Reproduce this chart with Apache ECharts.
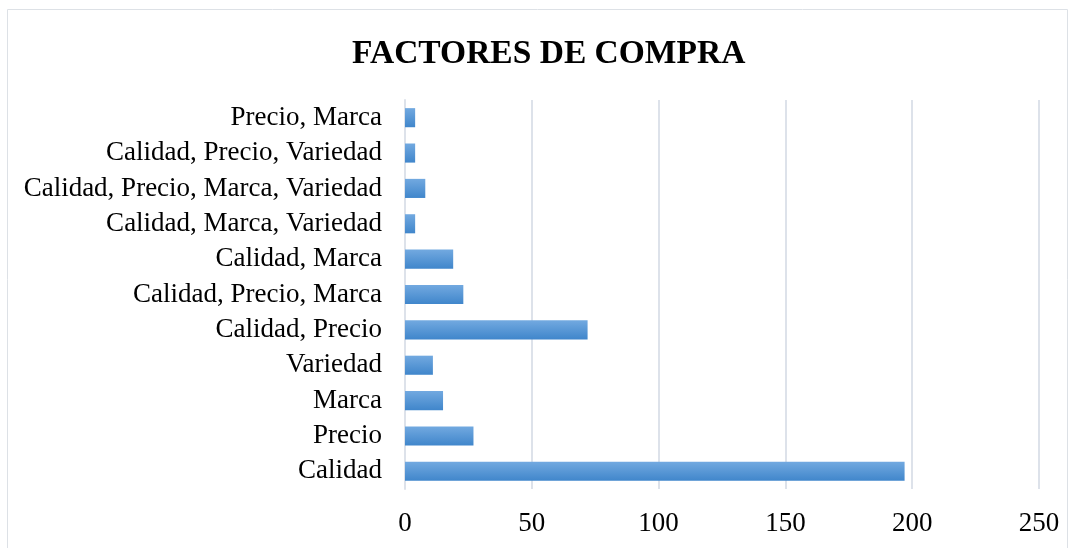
<!DOCTYPE html>
<html>
<head>
<meta charset="utf-8">
<script src="https://cdn.jsdelivr.net/npm/echarts@6/dist/echarts.min.js"></script>
<style>
html, body { margin: 0; padding: 0; background: #fff; }
#chart { width: 1073px; height: 548px; }
</style>
</head>
<body>
<div id="chart"></div>
<script>
var categories = ['Calidad', 'Precio', 'Marca', 'Variedad', 'Calidad, Precio',
    'Calidad, Precio, Marca', 'Calidad, Marca', 'Calidad, Marca, Variedad',
    'Calidad, Precio, Marca, Variedad', 'Calidad, Precio, Variedad', 'Precio, Marca'];
var counts = [197, 27, 15, 11, 72, 23, 19, 4, 8, 4, 4];
var axisMax = 250;
var axisStep = 50;

var serif = '"Liberation Serif", "Times New Roman", serif';

var option_factores = {
    animation: false,
    title: {
        text: 'FACTORES DE COMPRA',
        left: 347,
        top: 32,
        textStyle: {
            fontFamily: serif,
            fontSize: 33.5,
            fontWeight: 'bold',
            color: '#000'
        }
    },
    graphic: [{
        type: 'rect',
        shape: { x: 7.5, y: 9.5, width: 1060, height: 600 },
        style: { fill: 'none', stroke: '#dde1e6', lineWidth: 1 },
        silent: true
    }],
    grid: {
        left: 405,
        right: 34,
        top: 100,
        bottom: 59
    },
    xAxis: {
        type: 'value',
        min: 0,
        max: axisMax,
        interval: axisStep,
        axisLine: { show: false },
        axisTick: { show: false },
        splitLine: { lineStyle: { color: '#dde2ea', width: 2 } },
        axisLabel: {
            margin: 21,
            fontFamily: serif,
            fontSize: 27,
            color: '#000'
        }
    },
    yAxis: {
        type: 'category',
        data: categories,
        axisTick: { show: false },
        axisLine: { lineStyle: { color: '#dde2ea', width: 2 } },
        axisLabel: {
            margin: 23,
            padding: [4, 0, 0, 0],
            fontFamily: serif,
            fontSize: 27,
            color: '#000'
        }
    },
    series: [{
        name: 'Factores',
        type: 'bar',
        data: counts,
        barCategoryGap: '46%',
        itemStyle: {
            color: new echarts.graphic.LinearGradient(0, 0, 0, 1, [
                { offset: 0, color: '#72a9e0' },
                { offset: 1, color: '#4086cb' }
            ])
        }
    }]
};

var chart = echarts.init(document.getElementById('chart'));
chart.setOption(option_factores, true);
</script>
</body>
</html>
